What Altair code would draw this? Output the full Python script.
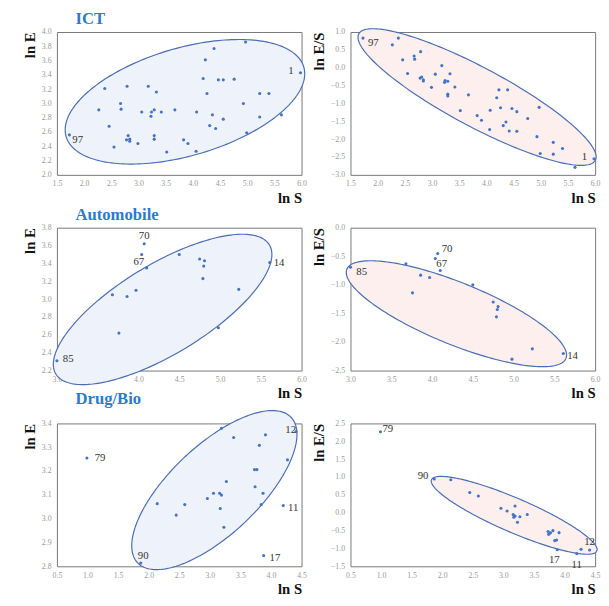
import math
import altair as alt
import pandas as pd

SERIF = "Liberation Serif"
POINT = "#4472C4"
EDGE = "#4A6DB1"
FILL_L = "#EEF2FA"
FILL_R = "#FCEFED"
TITLE_BLUE = "#2B7BCB"

# ---------------- data ----------------
ict_lnS = [1.73, 2.27, 2.38, 2.46, 2.55, 2.67, 2.68, 2.79, 2.78, 2.81, 2.84, 2.84,
           2.99, 3.06, 3.18, 3.23, 3.24, 3.29, 3.29, 3.29, 3.33, 3.42, 3.52, 3.67,
           3.83, 3.91, 4.06, 4.07, 4.19, 4.23, 4.26, 4.31, 4.36, 4.39, 4.42, 4.47,
           4.56, 4.56, 4.76, 4.93, 4.97, 4.99, 5.23, 5.23, 5.40, 5.63, 5.98]
ict_lnE = [2.56, 2.91, 3.21, 2.68, 2.39, 3.00, 2.92, 3.24, 2.49, 2.55, 2.50, 2.47,
           2.44, 2.88, 3.24, 2.82, 2.88, 2.91, 2.55, 2.50, 3.16, 2.88, 2.32, 2.91,
           2.49, 2.44, 2.33, 2.88, 3.35, 3.61, 3.14, 2.69, 2.84, 3.77, 2.65, 3.33,
           3.33, 2.78, 3.34, 3.00, 3.86, 2.59, 3.14, 2.81, 3.14, 2.84, 3.43]
ict_ids = ["97"] + [""] * 45 + ["1"]

auto_lnS = [3.00, 3.68, 3.76, 3.86, 3.97, 4.04, 4.07, 4.10, 4.50, 4.75, 4.81,
            4.80, 4.79, 4.98, 5.23, 5.61]
auto_lnE = [2.31, 3.05, 2.62, 3.03, 3.10, 3.50, 3.62, 3.35, 3.50, 3.45, 3.43,
            3.37, 3.23, 2.68, 3.11, 3.41]
auto_ids = ["85", "", "", "", "", "67", "70", "", "", "", "", "", "", "", "", "14"]

drug_lnS = [0.99, 1.87, 2.14, 2.45, 2.59, 2.96, 3.06, 3.16, 3.19, 3.17, 3.23, 3.27,
            3.19, 3.39, 3.73, 3.77, 3.74, 3.81, 3.84, 3.87, 3.91, 3.88, 4.20, 4.27, 4.41]
drug_lnE = [3.255, 2.814, 3.063, 3.015, 3.059, 3.085, 3.107, 3.107, 3.099, 3.043,
            2.964, 3.156, 3.380, 3.341, 3.206, 3.206, 3.134, 3.308, 3.059, 3.107,
            3.352, 2.845, 3.055, 3.247, 3.366]
drug_ids = ["79", "90"] + [""] * 19 + ["17", "11", "", "12"]

# concentration ellipses: centre (cx, cy), half-extent (rx, ry), correlation rho
ellipses = {
    ("ICT", "E"): (3.855, 3.023, 2.203, 0.872, 0.45),
    ("ICT", "ES"): (3.828, -0.821, 2.19, 1.913, -0.875),
    ("Auto", "E"): (4.296, 2.885, 1.34, 0.842, 0.73),
    ("Auto", "ES"): (4.299, -1.505, 1.351, 0.927, -0.78),
    ("Drug", "E"): (3.074, 3.120, 1.351, 0.334, 0.70),
    ("Drug", "ES"): (3.176, -0.073, 1.356, 1.09, -0.88),
}

# axis ranges / tick values
ict_x = [1.5, 2.0, 2.5, 3.0, 3.5, 4.0, 4.5, 5.0, 5.5, 6.0]
ict_yE = [2.0, 2.2, 2.4, 2.6, 2.8, 3.0, 3.2, 3.4, 3.6, 3.8, 4.0]
ict_yES = [-3.0, -2.5, -2.0, -1.5, -1.0, -0.5, 0.0, 0.5, 1.0]
auto_x = [3.0, 3.5, 4.0, 4.5, 5.0, 5.5, 6.0]
auto_yE = [2.2, 2.4, 2.6, 2.8, 3.0, 3.2, 3.4, 3.6, 3.8]
auto_yES = [-2.5, -2.0, -1.5, -1.0, -0.5, 0.0]
drug_x = [0.5, 1.0, 1.5, 2.0, 2.5, 3.0, 3.5, 4.0, 4.5]
drug_yE = [2.8, 2.9, 3.0, 3.1, 3.2, 3.3, 3.4]
drug_yES = [-1.5, -1.0, -0.5, 0.0, 0.5, 1.0, 1.5, 2.0, 2.5]

# label placement (style only): id -> (align, dx, dy)
label_style = {
    ("ICT", "E"): {"97": ("left", 3, 5), "1": ("right", -7, -2)},
    ("ICT", "ES"): {"97": ("left", 5, 5), "1": ("right", -7, -2)},
    ("Auto", "E"): {"70": ("center", 0, -8), "67": ("center", -3, 8),
                    "14": ("left", 4, 1), "85": ("left", 6, -2)},
    ("Auto", "ES"): {"70": ("left", 4, -4), "67": ("left", 1, 6),
                     "85": ("left", 6, 5), "14": ("left", 4, 3)},
    ("Drug", "E"): {"79": ("left", 8, 0), "90": ("left", -3, -7), "17": ("left", 6, 3),
                    "11": ("left", 5, 3), "12": ("right", 0, -1)},
    ("Drug", "ES"): {"79": ("left", 2, -3), "90": ("right", -6, -3),
                     "17": ("center", -3, 11), "11": ("center", 0, 12),
                     "12": ("center", 0, -8)},
}

W, H = 250, 146

AX = dict(format=".1f", labelFlush=False, labelOverlap=False, ticks=False, domain=False,
          grid=False, labelFont=SERIF, labelFontSize=8, labelColor="#999999",
          titleFont=SERIF, titleFontSize=15, titleFontWeight="bold", titleColor="#111111",
          titleAnchor="end")


def encodings(xdom, xticks, ydom, yticks, ytitle):
    x = alt.X("px:Q", scale=alt.Scale(domain=xdom, nice=False, zero=False),
              axis=alt.Axis(values=xticks, title="ln S", labelPadding=5, titlePadding=3, **AX))
    y = alt.Y("py:Q", scale=alt.Scale(domain=ydom, nice=False, zero=False),
              axis=alt.Axis(values=yticks, title=ytitle, labelPadding=6, titlePadding=4, **AX))
    return x, y


def panel(key, lnS, lnE, ids, xticks, yticks, title=None):
    sector, kind = key
    df = pd.DataFrame({"lnS": lnS, "lnE": lnE, "id": ids})
    xdom = [xticks[0], xticks[-1]]
    ydom = [yticks[0], yticks[-1]]
    ytitle = "ln E" if kind == "E" else "ln E/S"
    yexpr = "datum.lnE" if kind == "E" else "datum.lnE - datum.lnS"
    x, y = encodings(xdom, xticks, ydom, yticks, ytitle)

    cx, cy, rx, ry, rho = ellipses[key]
    s = math.sqrt(1 - rho * rho)
    ell = alt.Chart(alt.sequence(0, 6.34, 0.03, as_="t")).transform_calculate(
        px=f"{cx} + {rx} * cos(datum.t)",
        py=f"{cy} + {ry} * ({rho} * cos(datum.t) + {s} * sin(datum.t))",
    ).mark_line(fill=FILL_L if kind == "E" else FILL_R, stroke=EDGE,
                strokeWidth=1.2, clip=False).encode(x=x, y=y, order="t:Q")

    base = alt.Chart(df).transform_calculate(px="datum.lnS", py=yexpr)
    pts = base.mark_point(filled=True, size=10, color=POINT, opacity=1).encode(x=x, y=y)

    layers = [ell, pts]
    for lab, (align, dx, dy) in label_style[key].items():
        layers.append(
            base.transform_filter(alt.datum.id == lab).mark_text(
                align=align, dx=dx, dy=dy, font=SERIF, fontSize=11, color="#333333",
                baseline="middle").encode(x=x, y=y, text="id:N"))
    ch = alt.layer(*layers).properties(width=W, height=H)
    if title:
        ch = ch.properties(title=alt.TitleParams(
            text=title, anchor="start", frame="group", dx=19, offset=0, font=SERIF,
            fontSize=17, fontWeight="bold", color=TITLE_BLUE))
    return ch


charts = [
    panel(("ICT", "E"), ict_lnS, ict_lnE, ict_ids, ict_x, ict_yE, "ICT"),
    panel(("ICT", "ES"), ict_lnS, ict_lnE, ict_ids, ict_x, ict_yES),
    panel(("Auto", "E"), auto_lnS, auto_lnE, auto_ids, auto_x, auto_yE, "Automobile"),
    panel(("Auto", "ES"), auto_lnS, auto_lnE, auto_ids, auto_x, auto_yES),
    panel(("Drug", "E"), drug_lnS, drug_lnE, drug_ids, drug_x, drug_yE, "Drug/Bio"),
    panel(("Drug", "ES"), drug_lnS, drug_lnE, drug_ids, drug_x, drug_yES),
]

chart = alt.concat(*charts, columns=2, spacing={"row": 54, "column": 50},
                   bounds="flush").properties(
    padding={"left": 14, "top": -5, "right": 0, "bottom": 0}
).configure_view(stroke="#777777", strokeWidth=1)

chart.save("out.html", embed_options={"renderer": "svg", "actions": False})
